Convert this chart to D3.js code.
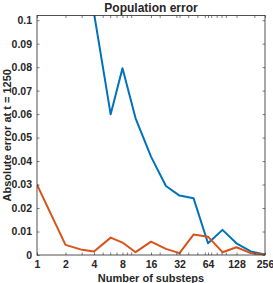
<!DOCTYPE html>
<html>
<head>
<meta charset="utf-8">
<script src="https://cdn.jsdelivr.net/npm/d3@7"></script>
<style>
  body { margin: 0; background: #fff; }
  text { font-family: "Liberation Sans", Arial, sans-serif; font-weight: bold; fill: #262626; }
</style>
</head>
<body>
<div class="chart"></div>
<script>
// data
var substeps = [1, 2, 3, 4, 6, 8, 11, 16, 23, 32, 45, 64, 91, 128, 181, 256];
var errBlue = [0.35, 0.22, 0.15, 0.103, 0.0599, 0.0795, 0.0582, 0.0419, 0.0294, 0.0253, 0.0242, 0.0050, 0.0107, 0.0050, 0.0015, 0.0002];
var errOrange = [0.0300, 0.0043, 0.0022, 0.0015, 0.0074, 0.0053, 0.0012, 0.0057, 0.0026, 0.0008, 0.0087, 0.0078, 0.0012, 0.0033, 0.0008, 0.0001];
var xTicks = [1, 2, 4, 8, 16, 32, 64, 128, 256];
var xMinorTicks = [3, 5, 6, 7, 9, 10, 20, 30, 40, 50, 60, 70, 80, 90, 100, 200];
var yTicks = [0, 0.01, 0.02, 0.03, 0.04, 0.05, 0.06, 0.07, 0.08, 0.09, 0.1];

var svgWidth = 273;
var svgHeight = 283;
var margin = { top: 15.5, right: 8, bottom: 28, left: 37 };
var width = svgWidth - margin.left - margin.right;
var height = svgHeight - margin.top - margin.bottom;

var svg = d3.select(".chart")
  .append("svg")
  .attr("width", svgWidth)
  .attr("height", svgHeight);

var chartGroup = svg.append("g")
  .attr("transform", `translate(${margin.left}, ${margin.top})`);

var xScale = d3.scaleLog().base(2)
  .domain([1, 256])
  .range([0, width]);

var yScale = d3.scaleLinear()
  .domain([0, 0.102])
  .range([height, 0]);

var tickLen = 2.5;
var axisColor = "#262626";

// clip for the lines
chartGroup.append("clipPath")
  .attr("id", "plotClip")
  .append("rect")
  .attr("width", width)
  .attr("height", height);

var line = d3.line()
  .x((d, i) => xScale(substeps[i]))
  .y(d => yScale(d));

chartGroup.append("path")
  .datum(errBlue)
  .attr("clip-path", "url(#plotClip)")
  .attr("fill", "none")
  .attr("stroke", "#0072BD")
  .attr("stroke-width", 2)
  .attr("stroke-linejoin", "round")
  .attr("d", line);

chartGroup.append("path")
  .datum(errOrange)
  .attr("clip-path", "url(#plotClip)")
  .attr("fill", "none")
  .attr("stroke", "#D95319")
  .attr("stroke-width", 2)
  .attr("stroke-linejoin", "round")
  .attr("d", line);

// bottom axis
var bottomAxis = d3.axisBottom(xScale)
  .tickValues(xTicks)
  .tickFormat(d3.format("d"))
  .tickSizeInner(-tickLen)
  .tickSizeOuter(0)
  .tickPadding(6);

var xAxis = chartGroup.append("g")
  .attr("transform", `translate(0, ${height})`)
  .call(bottomAxis);

var topAxis = d3.axisTop(xScale)
  .tickValues(xTicks)
  .tickFormat("")
  .tickSizeInner(-tickLen)
  .tickSizeOuter(0);

var xAxisTop = chartGroup.append("g")
  .call(topAxis);

// minor ticks on both x edges
[0, height].forEach(function(y0) {
  var dir = y0 === 0 ? 1 : -1;
  chartGroup.append("g").selectAll("line")
    .data(xMinorTicks)
    .enter()
    .append("line")
    .attr("x1", d => xScale(d))
    .attr("x2", d => xScale(d))
    .attr("y1", y0)
    .attr("y2", y0 + dir * tickLen)
    .attr("stroke", axisColor)
    .attr("stroke-width", 0.6);
});

// left and right axes
var leftAxis = d3.axisLeft(yScale)
  .tickValues(yTicks)
  .tickFormat(d => d === 0 ? "0" : d3.format(".2~f")(d))
  .tickSizeInner(-tickLen)
  .tickSizeOuter(0)
  .tickPadding(5);

var yAxis = chartGroup.append("g")
  .call(leftAxis);

var rightAxis = d3.axisRight(yScale)
  .tickValues(yTicks)
  .tickFormat("")
  .tickSizeInner(-tickLen)
  .tickSizeOuter(0);

var yAxisRight = chartGroup.append("g")
  .attr("transform", `translate(${width}, 0)`)
  .call(rightAxis);

[xAxis, xAxisTop, yAxis, yAxisRight].forEach(function(g) {
  g.select(".domain").remove();
  g.selectAll(".tick line").attr("stroke", axisColor).attr("stroke-width", 0.6);
  g.selectAll(".tick text")
    .attr("fill", axisColor)
    .style("font-size", "10.5px")
    .style("font-family", "'Liberation Sans', Arial, sans-serif")
    .style("font-weight", "bold");
});

// box around the plot
chartGroup.append("rect")
  .attr("width", width)
  .attr("height", height)
  .attr("fill", "none")
  .attr("stroke", axisColor)
  .attr("stroke-width", 0.8);

// title and labels
chartGroup.append("text")
  .attr("x", width / 2)
  .attr("y", -3.5)
  .attr("text-anchor", "middle")
  .style("font-size", "12px")
  .text("Population error");

chartGroup.append("text")
  .attr("x", width / 2)
  .attr("y", height + 26.5)
  .attr("text-anchor", "middle")
  .style("font-size", "11px")
  .text("Number of substeps");

chartGroup.append("text")
  .attr("transform", "rotate(-90)")
  .attr("x", 0 - (height / 2))
  .attr("y", 0 - margin.left + 11)
  .attr("text-anchor", "middle")
  .style("font-size", "11px")
  .text("Absolute error at t = 1250");
</script>
</body>
</html>
